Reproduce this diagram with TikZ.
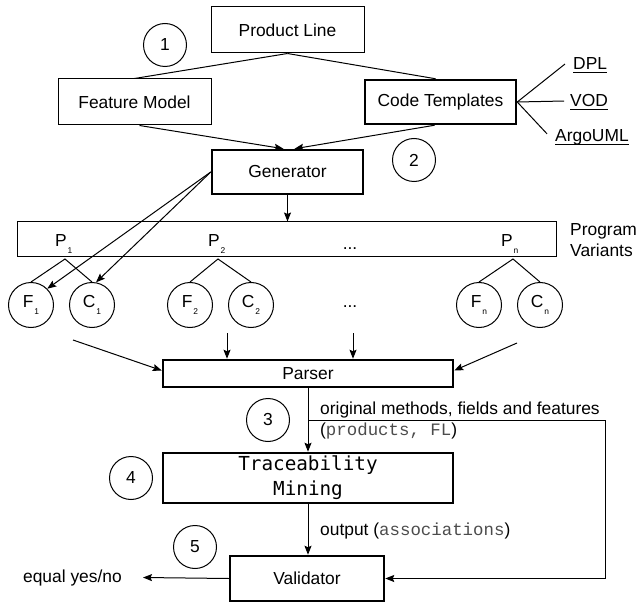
\documentclass[tikz,border=0pt]{standalone}
\usepackage{fontspec}
\setmainfont{Liberation Sans}
\setmonofont{Liberation Mono}
\newfontfamily\dvmono{DejaVu Sans Mono}
\usetikzlibrary{arrows.meta}
% lowered small index, as in P_1, F_n
\newcommand{\lowsub}[1]{\kern0.8pt\raisebox{-7pt}{\fontsize{8.4}{9}\selectfont #1}}
\begin{document}
\begin{tikzpicture}[x=1pt,y=-1pt]
\tikzset{
  txt/.style={font=\fontsize{17.4}{21}\selectfont},
  box/.style={draw, line width=1pt, inner sep=0pt, txt},
  tbox/.style={box, line width=2.5pt},
  bubble/.style={draw, circle, line width=1pt, minimum size=43pt, inner sep=0pt, txt},
  var/.style={draw, circle, line width=1pt, minimum size=45pt, inner sep=0pt, txt},
  plain/.style={inner sep=0pt, txt},
  link/.style={line width=1pt},
  flow/.style={line width=1pt, -{Stealth[length=9pt,width=7pt,inset=1.5pt]}},
  code/.style={text=black!70},
}
\useasboundingbox (0,0) rectangle (637,604);

% generation stage
\node[box, minimum width=153pt, minimum height=46pt] (pl) at (287.5,30) {Product Line};
\node[box, minimum width=153pt, minimum height=46pt] (fm) at (134.5,102) {Feature Model};
\node[tbox, minimum width=151pt, minimum height=44pt] (ct) at (440.5,102) {Code Templates};
\node[tbox, minimum width=151pt, minimum height=44pt] (gen) at (287.5,172) {Generator};
\node[bubble] (s1) at (165,45) {1};
\node[bubble] (s2) at (414,160) {2};

% case studies
\node[plain, anchor=base west] (dpl) at (573,70) {DPL};
\node[plain, anchor=base west] (vod) at (570,107) {VOD};
\node[plain, anchor=base west] (argo) at (555,142) {ArgoUML};
\foreach \n in {dpl,vod,argo}
  \draw[line width=0.9pt] ([yshift=-2pt]\n.base west) -- ([yshift=-2pt]\n.base east);
\draw[link] (ct.east) -- ([xshift=-8pt]dpl.west);
\draw[link] (ct.east) -- ([xshift=-6pt]vod.west);
\draw[link] (ct.east) -- ([shift={(-8pt,4pt)}]argo.west);

\draw[link] (pl.south) -- (fm.north);
\draw[link] (pl.south) -- ([xshift=-5pt]ct.north);
\draw[flow] ([xshift=5pt]fm.south) -- ([xshift=-4pt]gen.north);
\draw[flow] ([xshift=-6pt]ct.south) -- ([xshift=7pt]gen.north);

% program variants
\node[box, minimum width=539pt, minimum height=34pt] (bar) at (286.5,239) {};
\draw[flow] (gen.south) -- (gen.south |- bar.north);
\node[plain, anchor=base west] (p1) at (55,246) {P\lowsub{1}};
\node[plain, anchor=base west] (p2) at (208,246) {P\lowsub{2}};
\node[plain, anchor=base west] (pn) at (501,246) {P\lowsub{n}};
\node[plain, anchor=base] (bdots) at (350,249) {...};
\node[plain, anchor=base west] (pv1) at (570,235) {Program};
\node[plain, anchor=base west] (pv2) at (570,256) {Variants};

\coordinate (a1) at (65,259);
\coordinate (a2) at (218,259);
\coordinate (an) at (513,259);

\node[var] (f1) at (31,305) {F\lowsub{1}};
\node[var] (c1) at (92,305) {C\lowsub{1}};
\node[var] (f2) at (190,305) {F\lowsub{2}};
\node[var] (c2) at (251,305) {C\lowsub{2}};
\node[var] (fn) at (479,305) {F\lowsub{n}};
\node[var] (cn) at (540,305) {C\lowsub{n}};
\node[plain, anchor=base] (vdots) at (350,307) {...};

\draw[link] (f1.north) -- (a1) -- (c1.north);
\draw[link] (f2.north) -- (a2) -- (c2.north);
\draw[link] (fn.north) -- (an) -- (cn.north);

\draw[flow] (gen.west) -- (f1.45);
\draw[flow] (gen.west) -- (c1.80);

% parsing and mining
\node[tbox, minimum width=290pt, minimum height=27pt] (parser) at (308,373.5) {Parser};
\coordinate (in1) at (73,340);
\coordinate (in2) at (227,333);
\coordinate (in3) at (353,333);
\coordinate (in4) at (517,343);
\draw[flow] (in1) -- ([yshift=3pt]parser.west);
\draw[flow] (in2) -- (in2 |- parser.north);
\draw[flow] (in3) -- (in3 |- parser.north);
\draw[flow] (in4) -- ([yshift=3pt]parser.east);

\node[tbox, minimum width=290pt, minimum height=50pt, align=center,
      font=\dvmono\fontsize{19.3}{25}\selectfont] (tm) at (308,478) {Traceability\\Mining};
\node[tbox, minimum width=154pt, minimum height=45pt] (val) at (307,578.5) {Validator};

\node[bubble] (s3) at (268,420) {3};
\node[bubble] (s4) at (131,478) {4};
\node[bubble] (s5) at (195,547) {5};

\draw[flow] (parser.south) -- (tm.north);
\coordinate (br) at (parser.south |- 0,420);
\coordinate (rc) at (605,420);
\draw[flow] (br) -- (rc) |- (val.east);
\draw[flow] (tm.south) -- (tm.south |- val.north);

\node[plain, anchor=base west] (lab1) at (320,414) {original methods, fields and features};
\node[plain, anchor=base west] (lab2) at (320,435) {(\textcolor{black!70}{\texttt{products, FL}})};
\node[plain, anchor=base west] (lab3) at (320,535) {output (\textcolor{black!70}{\texttt{associations}})};

\node[plain, anchor=base east] (eq) at (122,582) {equal yes/no};
\draw[flow] (val.west) -- ([xshift=21pt]eq.east);
\end{tikzpicture}
\end{document}
